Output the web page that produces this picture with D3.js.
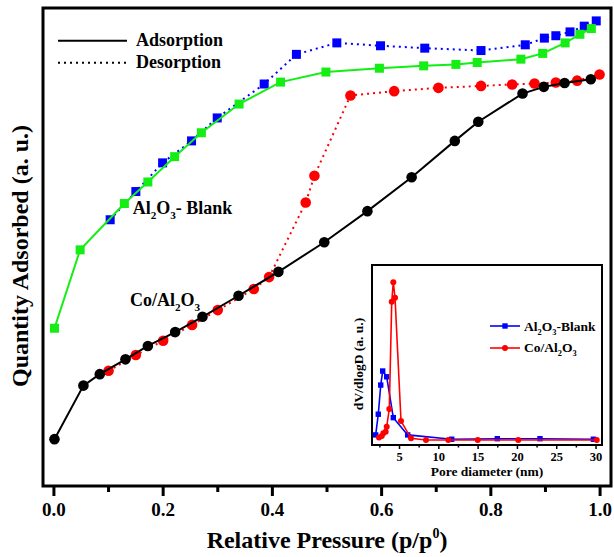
<!DOCTYPE html>
<html><head><meta charset="utf-8">
<script src="https://cdn.jsdelivr.net/npm/d3@7"></script>
<style>
html,body{margin:0;padding:0;background:#fff;}
svg text{font-family:"Liberation Serif","Times New Roman",serif;font-weight:bold;fill:#000;}
</style></head>
<body>
<svg id="c" width="614" height="557"></svg>
<script>
// ---- Main isotherm data (relative pressure, quantity adsorbed a.u.) ----
const coAdsP = [0.001,0.054,0.084,0.131,0.172,0.222,0.272,0.338,0.411,0.495,0.574,0.655,0.734,0.777,0.858,0.897,0.935,0.983];
const coAdsQ = [9.8,21.0,23.4,26.5,29.3,32.2,35.4,39.8,44.8,51.0,57.5,64.6,72.2,76.2,82.1,83.5,84.3,85.1];
const coDesP = [0.100,0.150,0.200,0.253,0.300,0.366,0.394,0.461,0.477,0.543,0.623,0.704,0.782,0.839,0.880,0.919,0.958,0.999];
const coDesQ = [24.1,27.4,30.4,33.7,36.8,41.2,43.7,59.3,64.9,81.7,82.6,83.3,83.7,84.0,84.2,84.4,84.8,86.1];
const blankAdsP = [0.001,0.048,0.129,0.172,0.221,0.270,0.339,0.415,0.498,0.596,0.677,0.736,0.775,0.855,0.895,0.936,0.963,0.984];
const blankAdsQ = [33.0,49.4,59.1,63.6,68.9,73.9,79.9,84.5,86.6,87.4,87.9,88.2,88.6,89.3,90.5,92.7,94.5,95.7];
const blankDesP = [0.103,0.150,0.199,0.252,0.299,0.385,0.444,0.518,0.598,0.679,0.782,0.863,0.898,0.919,0.945,0.971,0.993];
const blankDesQ = [55.7,61.6,67.6,72.2,77.0,84.1,90.3,92.7,92.1,91.6,91.1,92.3,93.7,94.2,95.0,96.2,97.3];
const xTicksMajor = [0,0.2,0.4,0.6,0.8,1.0];
const xTicksMinor = [0.1,0.3,0.5,0.7,0.9];

// ---- Inset pore size distribution ----
const blankD = [1.97,2.30,2.61,2.86,3.37,4.21,6.04,11.64,17.44,22.87,29.66];
const blankV = [5.6,17.1,33.3,41.1,37.9,15.2,5.6,3.2,3.5,3.5,3.2];
const coD = [2.39,2.74,2.94,3.24,3.37,3.70,4.01,4.21,4.43,5.19,6.46,8.37,11.21,14.95,20.11,30.09];
const coV = [4.1,5.0,6.5,7.4,10.2,20.0,79.6,90.4,81.8,13.3,3.7,2.8,2.8,2.8,2.8,2.8];
const insetTicksMajor = [5,10,15,20,25,30];
const insetTicksMinor = [2.5,7.5,12.5,17.5,22.5,27.5];

const svg = d3.select("#c");
const L=43, R=611, T=8, B=486;
const x = d3.scaleLinear().domain([-0.02,1.02]).range([L,R]);
const y = d3.scaleLinear().domain([0,100]).range([B,T]);

const zip=(a,b)=>a.map((v,i)=>[v,b[i]]);
const line = d3.line().x(d=>x(d[0])).y(d=>y(d[1]));

function series(P,Q,color,dashed,shape){
  const g=svg.append("g");
  g.append("path").datum(zip(P,Q)).attr("d",line).attr("fill","none")
   .attr("stroke",color).attr("stroke-width",2)
   .attr("stroke-dasharray",dashed?"2,4":null);
  const pts=zip(P,Q);
  if(shape==="sq"){
    g.selectAll("rect").data(pts).join("rect")
     .attr("x",d=>x(d[0])-4.5).attr("y",d=>y(d[1])-4.5).attr("width",9).attr("height",9).attr("fill",color);
  } else {
    g.selectAll("circle").data(pts).join("circle")
     .attr("cx",d=>x(d[0])).attr("cy",d=>y(d[1])).attr("r",5.3).attr("fill",color);
  }
}
const GREEN="#14ee14", BLUE="#0000ff", RED="#ff0000";
series(blankDesP,blankDesQ,BLUE,true,"sq");
series(blankAdsP,blankAdsQ,GREEN,false,"sq");
series(coDesP,coDesQ,RED,true,"c");
series(coAdsP,coAdsQ,"#000",false,"c");

// frame
svg.append("rect").attr("x",L).attr("y",T).attr("width",R-L).attr("height",B-T)
   .attr("fill","none").attr("stroke","#000").attr("stroke-width",3);
// x ticks
svg.append("g").selectAll("line").data(xTicksMajor).join("line")
  .attr("x1",d=>x(d)).attr("x2",d=>x(d)).attr("y1",B).attr("y2",B+10)
  .attr("stroke","#000").attr("stroke-width",3);
svg.append("g").selectAll("line").data(xTicksMinor).join("line")
  .attr("x1",d=>x(d)).attr("x2",d=>x(d)).attr("y1",B).attr("y2",B+6)
  .attr("stroke","#000").attr("stroke-width",3);
svg.append("g").selectAll("text").data(xTicksMajor).join("text")
  .attr("x",d=>x(d)).attr("y",516).attr("text-anchor","middle").attr("font-size",19)
  .text(d=>d.toFixed(1));
// axis titles
const xt=svg.append("text").attr("x",(L+R)/2).attr("y",548).attr("text-anchor","middle").attr("font-size",24);
xt.append("tspan").text("Relative Pressure (p/p");
xt.append("tspan").attr("font-size",14).attr("dy",-10).text("0");
xt.append("tspan").attr("dy",10).text(")");
svg.append("text").attr("transform","translate(28,256) rotate(-90)").attr("text-anchor","middle")
  .attr("font-size",24).text("Quantity Adsorbed (a. u.)");

// legend
svg.append("line").attr("x1",58).attr("x2",127).attr("y1",40.7).attr("y2",40.7).attr("stroke","#000").attr("stroke-width",2);
svg.append("line").attr("x1",58).attr("x2",127).attr("y1",62.7).attr("y2",62.7).attr("stroke","#000").attr("stroke-width",2).attr("stroke-dasharray","2,4");
svg.append("text").attr("x",136).attr("y",45.5).attr("font-size",18).text("Adsorption");
svg.append("text").attr("x",136).attr("y",67.5).attr("font-size",18).text("Desorption");

function chem(sel, parts, fs){
  // parts: [text, isSub]
  parts.forEach(([t,sub],i)=>{
    const prevSub = i>0 && parts[i-1][1];
    const ts=sel.append("tspan").text(t);
    if(sub){ ts.attr("font-size",fs*0.62).attr("dy",fs*0.3); }
    else if(prevSub){ ts.attr("dy",-fs*0.3); }
  });
}
chem(svg.append("text").attr("x",132.7).attr("y",214).attr("font-size",18),
  [["Al",0],["2",1],["O",0],["3",1],["- Blank",0]],18);
chem(svg.append("text").attr("x",130).attr("y",306).attr("font-size",18),
  [["Co/Al",0],["2",1],["O",0],["3",1]],18);

// ---- Inset ----
const iL=372, iR=602, iT=265, iB=445;
const xi = d3.scaleLinear().domain([1.5,30.76]).range([iL,iR]);
const yi = d3.scaleLinear().domain([0,100]).range([iB,iT]);
svg.append("rect").attr("x",iL).attr("y",iT).attr("width",iR-iL).attr("height",iB-iT)
  .attr("fill","#fff");
const iline=d3.line().x(d=>xi(d[0])).y(d=>yi(d[1]));
const ig=svg.append("g");
ig.append("path").datum(zip(blankD,blankV)).attr("d",iline).attr("fill","none").attr("stroke",BLUE).attr("stroke-width",1.6);
ig.selectAll(".bs").data(zip(blankD,blankV)).join("rect").attr("class","bs")
  .attr("x",d=>xi(d[0])-2.7).attr("y",d=>yi(d[1])-2.7).attr("width",5.4).attr("height",5.4).attr("fill",BLUE);
ig.append("path").datum(zip(coD,coV)).attr("d",iline).attr("fill","none").attr("stroke",RED).attr("stroke-width",1.6);
ig.selectAll(".rc").data(zip(coD,coV)).join("circle").attr("class","rc")
  .attr("cx",d=>xi(d[0])).attr("cy",d=>yi(d[1])).attr("r",3).attr("fill",RED);
svg.append("rect").attr("x",iL).attr("y",iT).attr("width",iR-iL).attr("height",iB-iT)
  .attr("fill","none").attr("stroke","#000").attr("stroke-width",2);
svg.append("g").selectAll("line").data(insetTicksMajor).join("line")
  .attr("x1",d=>xi(d)).attr("x2",d=>xi(d)).attr("y1",iB).attr("y2",iB+4).attr("stroke","#000").attr("stroke-width",1.5);
svg.append("g").selectAll("line").data(insetTicksMinor).join("line")
  .attr("x1",d=>xi(d)).attr("x2",d=>xi(d)).attr("y1",iB).attr("y2",iB+2.5).attr("stroke","#000").attr("stroke-width",1.5);
svg.append("g").selectAll("text").data(insetTicksMajor).join("text")
  .attr("x",d=>xi(d)).attr("y",461).attr("text-anchor","middle").attr("font-size",12.5).text(d=>d);
svg.append("text").attr("x",(iL+iR)/2).attr("y",476).attr("text-anchor","middle").attr("font-size",13.5).text("Pore diameter (nm)");
svg.append("text").attr("transform","translate(363,364) rotate(-90)").attr("text-anchor","middle")
  .attr("font-size",13.5).text("dV/dlogD (a. u.)");
// inset legend
svg.append("line").attr("x1",490).attr("x2",520).attr("y1",326).attr("y2",326).attr("stroke",BLUE).attr("stroke-width",1.6);
svg.append("rect").attr("x",505-2.7).attr("y",326-2.7).attr("width",5.4).attr("height",5.4).attr("fill",BLUE);
svg.append("line").attr("x1",490).attr("x2",520).attr("y1",348).attr("y2",348).attr("stroke",RED).attr("stroke-width",1.6);
svg.append("circle").attr("cx",505).attr("cy",348).attr("r",3).attr("fill",RED);
chem(svg.append("text").attr("x",524).attr("y",330.5).attr("font-size",13.5),
  [["Al",0],["2",1],["O",0],["3",1],["-Blank",0]],13.5);
chem(svg.append("text").attr("x",524).attr("y",352).attr("font-size",13.5),
  [["Co/Al",0],["2",1],["O",0],["3",1]],13.5);
</script>
</body></html>
